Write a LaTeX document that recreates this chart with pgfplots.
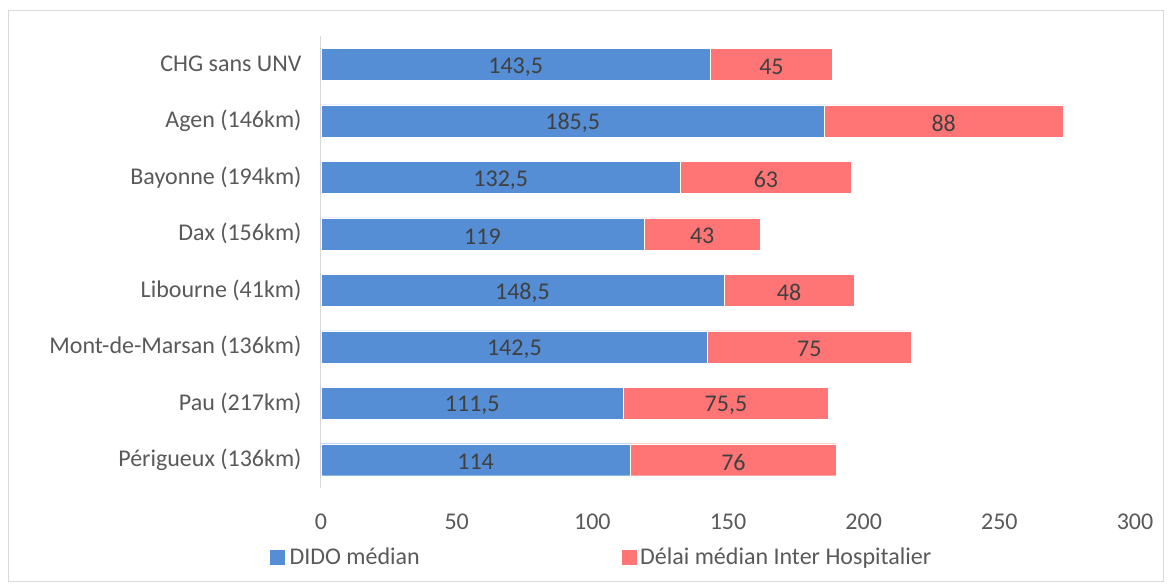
\documentclass[border=0pt]{standalone}
\usepackage{pgfplots}
\pgfplotsset{compat=1.18}
\usepackage{pgfplotstable}
\usepackage{fontspec}
\setmainfont{Carlito}

\definecolor{dido}{HTML}{558ED5}
\definecolor{delai}{HTML}{FF7575}
\definecolor{txt}{HTML}{595959}
\definecolor{val}{HTML}{404040}
\definecolor{frm}{HTML}{D9D9D9}

% one row per hospital, top to bottom
\pgfplotstableread{
idx dido delai
0 143.5 45
1 185.5 88
2 132.5 63
3 119 43
4 148.5 48
5 142.5 75
6 111.5 75.5
7 114 76
}\data

\begin{document}
\begin{tikzpicture}[x=1pt,y=1pt,font=\fontsize{24}{29}\selectfont]
\useasboundingbox (0,0) rectangle (1171,585);
\draw[frm, line width=1pt] (8,3) rectangle (1163,574);
\begin{axis}[
  at={(321pt,97pt)}, anchor=south west,
  scale only axis, width=814pt, height=452pt,
  xbar stacked, bar width=32pt,
  xmin=0, xmax=300, ymin=-0.5, ymax=7.5, y dir=reverse,
  xtick={0,50,...,300},
  ytick={0,...,7},
  yticklabels={CHG sans UNV, Agen (146km), Bayonne (194km), Dax (156km),
    Libourne (41km), Mont-de-Marsan (136km), Pau (217km), Périgueux (136km)},
  axis lines*=left,
  x axis line style={draw=none},
  y axis line style={frm, line width=1pt},
  major tick length=0pt,
  /pgf/number format/assume math mode=true,
  tick label style={text=txt},
  yticklabel style={xshift=-16pt},
  xticklabel style={yshift=-22pt},
  nodes near coords={\pgfmathprintnumber[use comma,fixed,precision=1]{\pgfplotspointmeta}},
  point meta=explicit,
  every node near coord/.append style={anchor=center, text=val, yshift=-2.5pt},
  legend columns=2,
  legend cell align=left,
  legend style={draw=none, fill=none, inner sep=0pt, text=txt,
    at={(-0.0627,-0.1527)}, anchor=west,
    /tikz/every even column/.append style={column sep=200pt}},
]
\addplot[fill=dido, draw=white, line width=0.4pt,
  legend image code/.code={\fill[dido] (0pt,-7pt) rectangle (14pt,7pt);}]
  table[x=dido, y=idx, meta=dido] {\data};
\addlegendentry{\hspace{3pt}DIDO médian}
\addplot[fill=delai, draw=white, line width=0.4pt,
  legend image code/.code={\fill[delai] (0pt,-7pt) rectangle (14pt,7pt);}]
  table[x=delai, y=idx, meta=delai] {\data};
\addlegendentry{\hspace{2pt}Délai médian Inter Hospitalier}
\end{axis}
\end{tikzpicture}
\end{document}
